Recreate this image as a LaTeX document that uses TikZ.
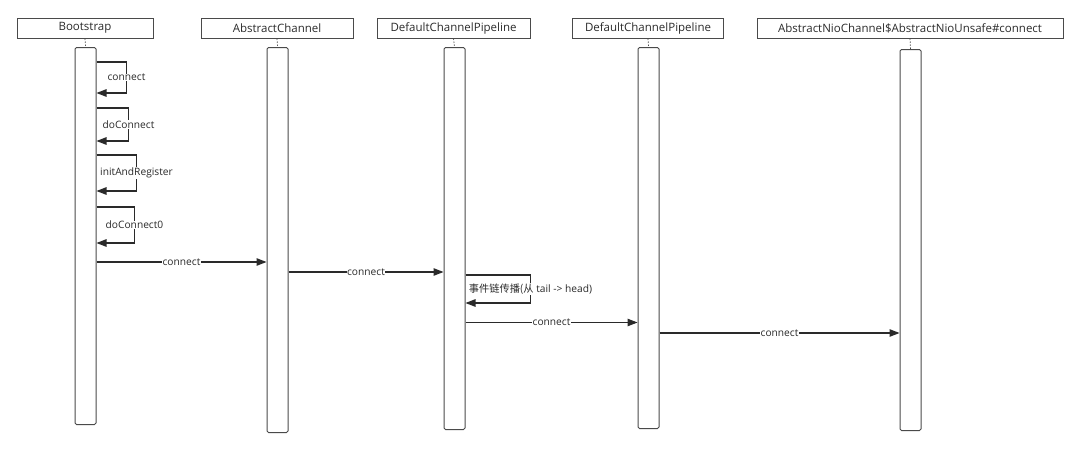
\documentclass[tikz,border=0pt]{standalone}
\usepackage{fontspec}
\setmainfont{Open Sans}
\newfontfamily\cjk{Noto Sans CJK SC}
\usetikzlibrary{arrows.meta}
\definecolor{ln}{HTML}{2A2A2A}
\definecolor{bx}{HTML}{4A4A4A}
\definecolor{tx}{HTML}{2A2A2A}
\tikzset{
  hdr/.style={draw=bx, line width=1pt, rectangle, minimum height=20pt, inner sep=0pt, text=tx, font=\fontsize{11.5}{13}\selectfont},
  act/.style={draw=bx, line width=1pt, rectangle, rounded corners=1.5pt, minimum width=21pt, inner sep=0pt, anchor=north},
  life/.style={draw=bx, line width=0.7pt, dash pattern=on 1.5pt off 1.5pt},
  msg/.style={draw=ln, line width=1.1pt, -{Triangle[length=10pt,width=7.5pt]}},
  lbl/.style={fill=white, inner sep=0.5pt, text=tx, font=\fontsize{10.2}{12}\selectfont},
}
\begin{document}
\begin{tikzpicture}[x=1pt,y=-1pt]
\useasboundingbox (0,0) rectangle (1080,450);
% headers
\node[hdr, minimum width=136pt] (h1) at (85,28) {Bootstrap};
\node[hdr, minimum width=152pt] (h2) at (277,28) {AbstractChannel};
\node[hdr, minimum width=153pt] (h3) at (453.5,28) {DefaultChannelPipeline};
\node[hdr, minimum width=151pt] (h4) at (648,28) {DefaultChannelPipeline};
\node[hdr, minimum width=306pt] (h5) at (910,28) {AbstractNioChannel\$AbstractNioUnsafe\#connect};
% activation boxes
\node[act, minimum height=377pt] (b1) at (85.5,47) {};
\node[act, minimum height=385pt] (b2) at (277.5,47) {};
\node[act, minimum height=382pt] (b3) at (454.5,47) {};
\node[act, minimum height=381pt] (b4) at (648.5,47) {};
\node[act, minimum height=381pt] (b5) at (910.5,49) {};
% lifeline stubs
\draw[life] (h1.south) -- (b1.north);
\draw[life] (h2.south) -- (b2.north);
\draw[life] (h3.south) -- (b3.north);
\draw[life] (h4.south) -- (b4.north);
\draw[life] (h5.south) -- (b5.north);
% self calls on Bootstrap
\draw[msg] ([yshift=-15pt]b1.north east) -- ++(30,0) -- ++(0,31) node[midway, lbl] {connect} -- ++(-30,0);
\draw[msg] ([yshift=-61pt]b1.north east) -- ++(32,0) -- ++(0,33) node[midway, lbl] {doConnect} -- ++(-32,0);
\draw[msg] ([yshift=-108pt]b1.north east) -- ++(40,0) -- ++(0,36) node[midway, lbl] {initAndRegister} -- ++(-40,0);
\draw[msg] ([yshift=-160pt]b1.north east) -- ++(38,0) -- ++(0,36) node[midway, lbl] {doConnect0} -- ++(-38,0);
% messages
\draw[msg] ([yshift=-215pt]b1.north east) -- node[lbl] {connect} ([yshift=-215pt]b2.north west);
\draw[msg] ([yshift=-225pt]b2.north east) -- node[lbl] {connect} ([yshift=-225pt]b3.north west);
% self call on DCP1
\draw[msg] ([yshift=-228pt]b3.north east) -- ++(65,0) -- ++(0,28) node[midway, lbl] {{\cjk 事件链传播(从} tail -> head)} -- ++(-65,0);
\draw[msg] ([yshift=-275.5pt]b3.north east) -- node[lbl] {connect} ([yshift=-275.5pt]b4.north west);
\draw[msg] ([yshift=-286pt]b4.north east) -- node[lbl] {connect} ([yshift=-284pt]b5.north west);
\end{tikzpicture}
\end{document}
